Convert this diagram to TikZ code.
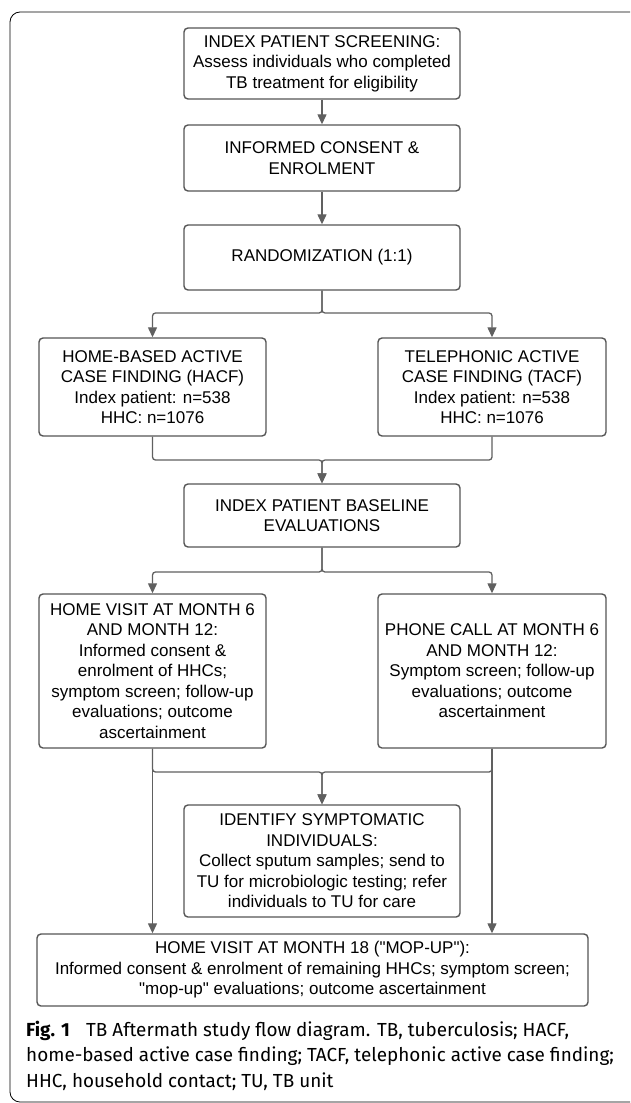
\documentclass[tikz,border=0pt]{standalone}
\usepackage{fontspec}
\setmainfont{Liberation Sans}
\newfontfamily\capfont{Fira Sans}
\usepackage{tikz}
\usetikzlibrary{arrows.meta}
\definecolor{boxgray}{HTML}{555555}
\definecolor{linegray}{HTML}{606060}
\tikzstyle{box} = [draw=boxgray, line width=1.4pt, rounded corners=4pt, align=center, inner sep=0pt, font=\fontsize{17}{20.5}\selectfont]
\tikzstyle{arrow} = [draw=linegray, line width=1.3pt, rounded corners=3pt, -{Triangle[length=10pt,width=9pt]}]
\tikzstyle{line} = [draw=linegray, line width=1.3pt, rounded corners=3pt]

\begin{document}
\begin{tikzpicture}[x=1pt,y=-1pt]
        \clip (0,0) rectangle (630,1103);
        \useasboundingbox (0,0) rectangle (630,1103);
        \draw[line width=0.8pt, rounded corners=10pt] (660,12) -- (10,12) -- (10,1102) -- (660,1102);

        \node[box, minimum width=276pt, minimum height=71pt] (1) at (322,63.5) {INDEX PATIENT SCREENING:\\Assess individuals who completed\\TB treatment for eligibility};
        \node[box, minimum width=276pt, minimum height=66pt] (2) at (322,158) {INFORMED CONSENT \&\\ENROLMENT};
        \node[box, minimum width=276pt, minimum height=65pt] (3) at (322,257.5) {RANDOMIZATION (1:1)};
        \node[box, minimum width=227pt, minimum height=98pt] (4) at (152.5,387) {HOME-BASED ACTIVE\\CASE FINDING (HACF)\\Index patient: n=538\\HHC: n=1076};
        \node[box, minimum width=228pt, minimum height=98pt] (5) at (492,387) {TELEPHONIC ACTIVE\\CASE FINDING (TACF)\\Index patient: n=538\\HHC: n=1076};
        \node[box, minimum width=276pt, minimum height=63pt] (6) at (322,515.5) {INDEX PATIENT BASELINE\\EVALUATIONS};
        \node[box, minimum width=227pt, minimum height=154pt] (7) at (152.5,671) {HOME VISIT AT MONTH 6\\AND MONTH 12:\\Informed consent \&\\enrolment of HHCs;\\symptom screen; follow-up\\evaluations; outcome\\ascertainment};
        \node[box, minimum width=228pt, minimum height=154pt] (8) at (492,671) {PHONE CALL AT MONTH 6\\AND MONTH 12:\\Symptom screen; follow-up\\evaluations; outcome\\ascertainment};
        \node[box, minimum width=276pt, minimum height=112pt] (9) at (322,861) {IDENTIFY SYMPTOMATIC\\INDIVIDUALS:\\Collect sputum samples; send to\\TU for microbiologic testing; refer\\individuals to TU for care};
        \node[box, minimum width=551pt, minimum height=72pt] (10) at (312.5,970) {HOME VISIT AT MONTH 18 (\textquotedbl MOP-UP\textquotedbl):\\Informed consent \& enrolment of remaining HHCs; symptom screen;\\\textquotedbl mop-up\textquotedbl{} evaluations; outcome ascertainment};

        \coordinate (s1) at (322,313);
        \coordinate (m1) at (322,460);
        \coordinate (s2) at (322,572);
        \coordinate (m2) at (322,772);

        \draw[arrow] (1) -- (2);
        \draw[arrow] (2) -- (3);
        \draw[arrow] (3.south) -- (s1) -| (4.north);
        \draw[arrow] (3.south) -- (s1) -| (5.north);
        \draw[arrow] (4.south) |- (m1) -- (6.north);
        \draw[arrow] (5.south) |- (m1) -- (6.north);
        \draw[arrow] (6.south) -- (s2) -| (7.north);
        \draw[arrow] (6.south) -- (s2) -| (8.north);
        \draw[arrow] (7.south) |- (m2) -- (9.north);
        \draw[arrow] (8.south) |- (m2) -- (9.north);
        \draw[arrow] (7.south) -- (7.south |- 10.north);
        \draw[arrow] (8.south) -- (8.south |- 10.north);

        \node[anchor=base west, inner sep=0pt, align=left, font=\capfont\fontsize{18.9}{25.5}\selectfont] (11) at (26,1087) {\textbf{Fig. 1}\hspace{0.6em} TB Aftermath study flow diagram. TB, tuberculosis; HACF,\\home-based active case finding; TACF, telephonic active case finding;\\HHC, household contact; TU, TB unit};
      \end{tikzpicture}
\end{document}
